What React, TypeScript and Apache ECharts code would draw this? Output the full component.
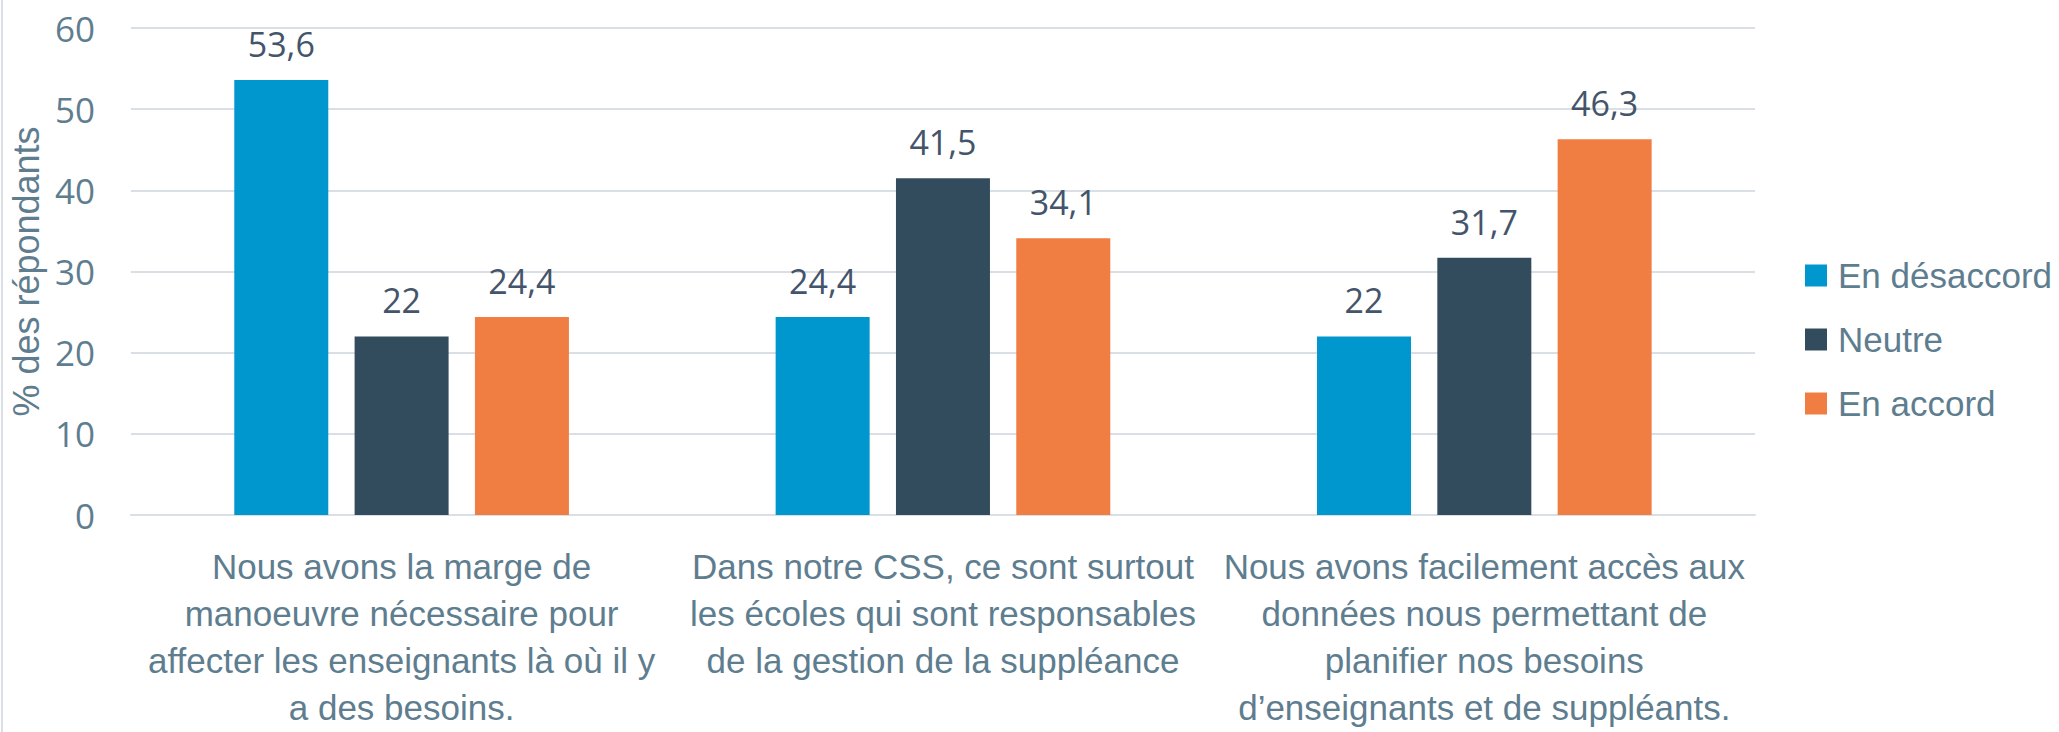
import React, { useEffect, useRef } from "react";
import * as echarts from "echarts";

const categories = [
  "Nous avons la marge de\nmanoeuvre nécessaire pour\naffecter les enseignants là où il y\na des besoins.",
  "Dans notre CSS, ce sont surtout\nles écoles qui sont responsables\nde la gestion de la suppléance",
  "Nous avons facilement accès aux\ndonnées nous permettant de\nplanifier nos besoins\nd’enseignants et de suppléants.",
];
const seriesNames = ["En désaccord", "Neutre", "En accord"];
const desaccord = [53.6, 24.4, 22];
const neutre = [22, 41.5, 31.7];
const accord = [24.4, 34.1, 46.3];
const colors = ["#0097CE", "#324C5E", "#F07D41"];
const yTicks = { min: 0, max: 60, interval: 10 };
const yTitle = "% des répondants";

const axisText = "#5E7D8F";
const labelText = "#44546A";
const gridColor = "#D9DFE4";

export default function App() {
  const ref = useRef<HTMLDivElement>(null);
  useEffect(() => {
    if (!ref.current) return;
    const chart = echarts.init(ref.current, undefined, { renderer: "svg" });
    const values = [desaccord, neutre, accord];
    chart.setOption({
      animation: false,
      backgroundColor: "#ffffff",
      grid: { left: 123, right: 304, top: 28, bottom: 217, containLabel: false },
      legend: {
        orient: "vertical",
        left: 1800,
        top: 253,
        itemWidth: 22,
        itemHeight: 22,
        itemGap: 29,
        icon: "rect",
        data: seriesNames,
        textStyle: {
          color: axisText,
          fontSize: 35,
          fontFamily: "'Liberation Sans', Arial, sans-serif",
          padding: [0, 0, 0, 6],
        },
      },
      xAxis: {
        type: "category",
        data: categories,
        axisLine: { show: true, lineStyle: { color: gridColor, width: 2 } },
        axisTick: { show: false },
        axisLabel: {
          interval: 0,
          margin: 28,
          color: axisText,
          fontSize: 35,
          lineHeight: 47,
          fontFamily: "'Liberation Sans', Arial, sans-serif",
          align: "center",
        },
      },
      yAxis: {
        type: "value",
        min: yTicks.min,
        max: yTicks.max,
        interval: yTicks.interval,
        name: yTitle,
        nameLocation: "middle",
        nameGap: 68,
        nameTextStyle: {
          color: axisText,
          fontSize: 36,
          fontFamily: "'Liberation Sans', Arial, sans-serif",
        },
        axisLine: { show: false },
        axisTick: { show: false },
        axisLabel: {
          margin: 36,
          color: axisText,
          fontSize: 35,
          fontFamily: "'Open Sans', sans-serif",
        },
        splitLine: { lineStyle: { color: gridColor, width: 2 } },
      },
      graphic: [
        {
          type: "line",
          shape: { x1: 2, y1: 0, x2: 2, y2: 732 },
          style: { stroke: gridColor, lineWidth: 2 },
        },
      ],
      series: seriesNames.map((name, i) => ({
        name,
        type: "bar",
        data: values[i],
        barWidth: 94,
        barGap: "28%",
        itemStyle: { color: colors[i] },
        label: {
          show: true,
          position: "top",
          distance: 19,
          color: labelText,
          fontSize: 34,
          fontFamily: "'Open Sans', sans-serif",
          formatter: (p: any) => String(p.value).replace(".", ","),
        },
      })),
    });
    return () => chart.dispose();
  }, []);
  return (
    <div
      ref={ref}
      style={{ position: "fixed", left: 0, top: 0, width: 2059, height: 732 }}
    />
  );
}
